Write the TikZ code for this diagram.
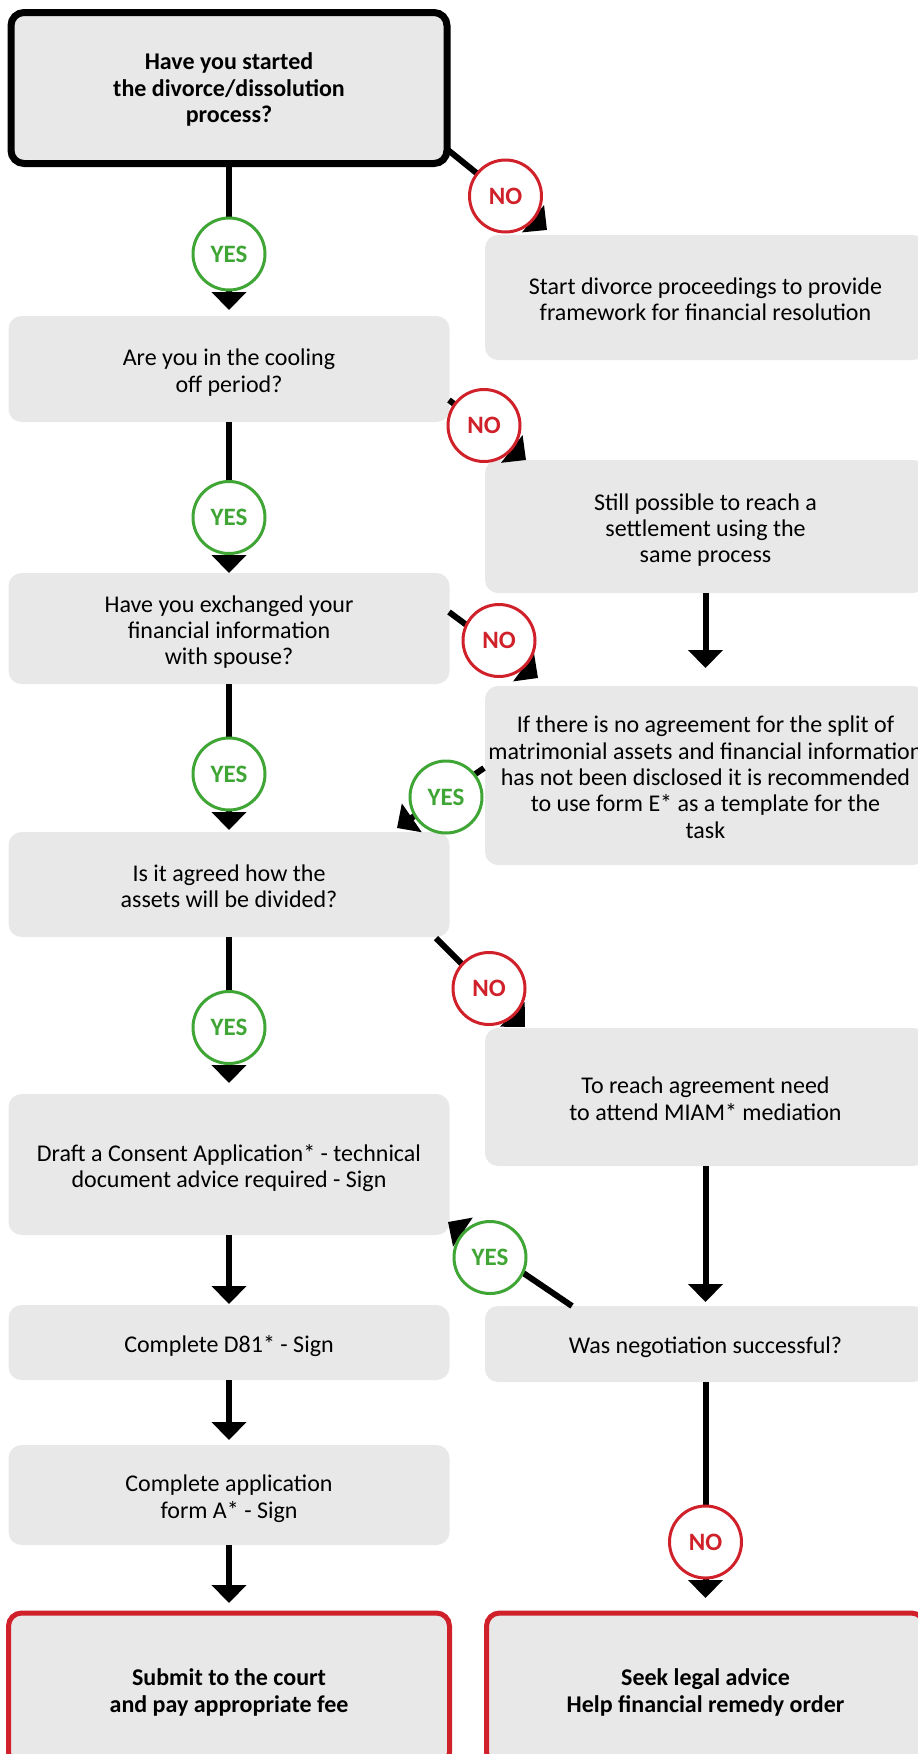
\documentclass[tikz,border=0pt]{standalone}
\usepackage{fontspec}
\setmainfont{Carlito}
\usetikzlibrary{arrows.meta}
\definecolor{boxgray}{HTML}{E8E8E8}
\definecolor{yesgreen}{HTML}{3FA535}
\definecolor{nored}{HTML}{D0202A}
\newcommand\boxtext[2][4.7pt]{\raisebox{-#1}[\height][\depth]{\begin{tabular}{@{}c@{}}#2\end{tabular}}}
\begin{document}
\begin{tikzpicture}[x=1pt,y=-1pt,
  box/.style={rectangle, rounded corners=13pt, fill=boxgray, inner sep=0pt, outer sep=0pt,
    font=\fontsize{24}{26.3}\selectfont, minimum width=441pt},
  startbox/.style={box, draw=black, line width=7pt, font=\bfseries\fontsize{24}{26.3}\selectfont},
  endbox/.style={box, draw=nored, line width=5pt, font=\bfseries\fontsize{24}{26.3}\selectfont},
  yescirc/.style={circle, draw=yesgreen, line width=3pt, fill=white, minimum size=72pt, inner sep=0pt,
    text=yesgreen, font=\bfseries\fontsize{25}{25}\selectfont},
  nocirc/.style={yescirc, draw=nored, text=nored},
  arr/.style={line width=6pt, -{Triangle[width=34pt,length=18pt]}},
]
\useasboundingbox (0,0) rectangle (918,1754);
\clip (0,0) rectangle (918,1754);

% left column
\node[startbox, minimum width=436pt, minimum height=151pt] (b1) at (229,88)
  {\boxtext[3pt]{Have you started\\the divorce/dissolution\\process?}};
\node[box, minimum height=106pt] (b2) at (229,369) {\boxtext{Are you in the cooling\\off period?}};
\node[box, minimum height=111pt] (b3) at (229,628.5) {\boxtext{Have you exchanged your\\financial information\\with spouse?}};
\node[box, minimum height=105pt] (b4) at (229,884.5) {\boxtext{Is it agreed how the\\assets will be divided?}};
\node[box, minimum height=141pt] (b5) at (229,1164.5) {\boxtext{Draft a Consent Application* - technical\\document advice required - Sign}};
\node[box, minimum height=75pt] (b6) at (229,1342.5) {\boxtext{Complete D81* - Sign}};
\node[box, minimum height=100pt] (b7) at (229,1495) {\boxtext{Complete application\\form A* - Sign}};
\node[endbox, minimum height=152pt] (b8) at (229,1689) {\boxtext{Submit to the court\\and pay appropriate fee}};

% right column
\node[box, minimum height=125pt] (r1) at (705.5,297.5) {\boxtext{Start divorce proceedings to provide\\framework for financial resolution}};
\node[box, minimum height=133pt] (r2) at (705.5,526.5) {\boxtext{Still possible to reach a\\settlement using the\\same process}};
\node[box, minimum height=179pt] (r3) at (705.5,775.5) {\boxtext{If there is no agreement for the split of\\matrimonial assets and financial information\\has not been disclosed it is recommended\\to use form E* as a template for the\\task}};
\node[box, minimum height=138pt] (r4) at (705.5,1097) {\boxtext{To reach agreement need\\to attend MIAM* mediation}};
\node[box, minimum height=76pt] (r5) at (705.5,1344) {\boxtext{Was negotiation successful?}};
\node[endbox, minimum width=438pt, minimum height=152pt] (r6) at (705.5,1689) {\boxtext{Seek legal advice\\Help financial remedy order}};

% vertical connectors
\draw[arr, shorten >=6pt] (b1.south) -- (b2.north);
\draw[arr] (b2.south) -- (b3.north);
\draw[arr, shorten >=2pt] (b3.south) -- (b4.north);
\draw[arr, shorten >=11pt] (b4.south) -- (b5.north);
\draw[arr, shorten >=1pt] (b5.south) -- (b6.north);
\draw[arr, shorten >=5pt] (b6.south) -- (b7.north);
\draw[arr, shorten >=10pt] (b7.south) -- (b8.north);
\draw[arr, shorten >=18pt] (r2.south) -- (r3.north);
\draw[arr, shorten >=4pt] (r4.south) -- (r5.north);
\draw[arr, shorten >=15pt] (r5.south) -- (r6.north);

% diagonal connectors
\coordinate (d1s) at (448,150);  \coordinate (d1e) at (547,230);
\coordinate (d2s) at (449,400);  \coordinate (d2e) at (526,460);
\coordinate (d3s) at (449,612);  \coordinate (d3e) at (538,678);
\coordinate (d4s) at (484,768);  \coordinate (d4e) at (397,828);
\coordinate (d5s) at (436,938);  \coordinate (d5e) at (525,1027);
\coordinate (d6s) at (572,1306); \coordinate (d6e) at (448,1222);
\draw[arr] (d1s) -- (d1e);
\draw[arr] (d2s) -- (d2e);
\draw[arr] (d3s) -- (d3e);
\draw[arr] (d4s) -- (d4e);
\draw[arr] (d5s) -- (d5e);
\draw[arr] (d6s) -- (d6e);

% labels
\node[yescirc] (y1) at (229,254) {YES};
\node[yescirc] (y2) at (229,517.5) {YES};
\node[yescirc] (y3) at (229,774) {YES};
\node[yescirc] (y4) at (446,797) {YES};
\node[yescirc] (y5) at (229,1027.5) {YES};
\node[yescirc] (y6) at (490,1257.5) {YES};
\node[nocirc] (n1) at (505.5,196) {NO};
\node[nocirc] (n2) at (484,425.5) {NO};
\node[nocirc] (n3) at (499,640.5) {NO};
\node[nocirc] (n4) at (489,988.5) {NO};
\node[nocirc] (n5) at (705.5,1542) {NO};
\end{tikzpicture}
\end{document}
